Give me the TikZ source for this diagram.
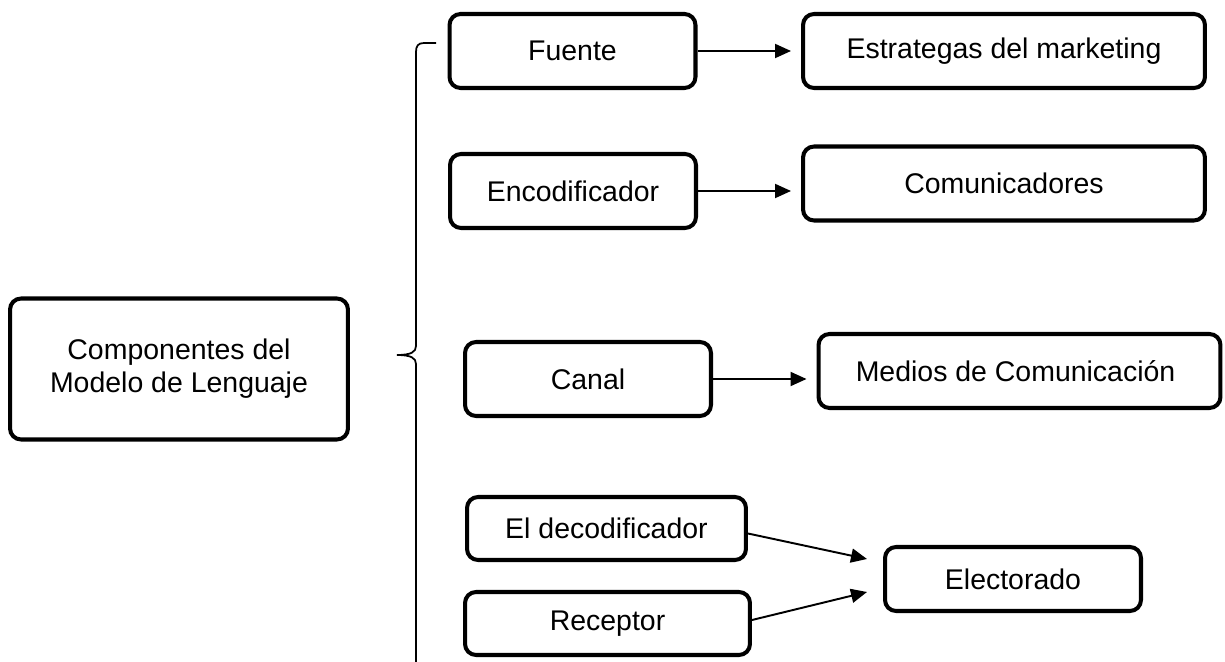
\documentclass[tikz,border=0pt]{standalone}
\usepackage{fontspec}
\setmainfont{Liberation Sans}
\usetikzlibrary{arrows.meta}

\begin{document}
\begin{tikzpicture}[x=0.02cm, y=-0.02cm,
    caja/.style={draw, line width=2.3pt, rounded corners=0.22cm, align=center,
        inner sep=0pt, font=\fontsize{16.2}{18.8}\selectfont},
    flecha/.style={->, line width=1.1pt, shorten >=0.2cm},
    >={Triangle[length=0.32cm, width=0.28cm]}]
\useasboundingbox (0,0) rectangle (1225,662);

\node[caja, minimum width=6.76cm, minimum height=2.82cm] (comp) at (179,369)
    {Componentes del\\Modelo de Lenguaje};

% llave
\draw[line width=1pt] (436,43) -- (424,43) .. controls (418,43) and (416,46) .. (416,52)
    -- (416,346) .. controls (416,352) and (411,355) .. (397,355);
\draw[line width=1pt] (397,355) .. controls (411,355) and (416,358) .. (416,364) -- (416,662);

\foreach \n/\xa/\ya/\ta/\xb/\yb/\tb in {
    1/572.5/51/Fuente/1004/51/Estrategas del marketing,
    2/573/191/Encodificador/1004/183.5/Comunicadores,
    3/588/379/Canal/1019.5/371/Medios de Comunicación
} {
    \node[caja, minimum width=4.92cm, minimum height=1.48cm] (izq\n) at (\xa,\ya) {\ta};
    \node[caja, minimum width=8.04cm, minimum height=1.48cm] (der\n) at (\xb,\yb) {\tb};
    \draw[flecha] (izq\n.east) -- (izq\n.east -| der\n.west);
}

\node[caja, minimum width=5.58cm, minimum height=1.26cm] (decod) at (606.5,528.5) {El decodificador};
\node[caja, minimum width=5.7cm, minimum height=1.26cm] (recep) at (607.5,623.5) {Receptor};
\node[caja, minimum width=5.12cm, minimum height=1.28cm] (elect) at (1013,579) {Electorado};

\draw[flecha, shorten >=0pt] ([yshift=-0.1cm]decod.east) -- ([xshift=-0.32cm, yshift=0.4cm]elect.west);
\draw[flecha, shorten >=0pt] ([yshift=0.07cm]recep.east) -- ([xshift=-0.32cm, yshift=-0.26cm]elect.west);

\end{tikzpicture}
\end{document}
